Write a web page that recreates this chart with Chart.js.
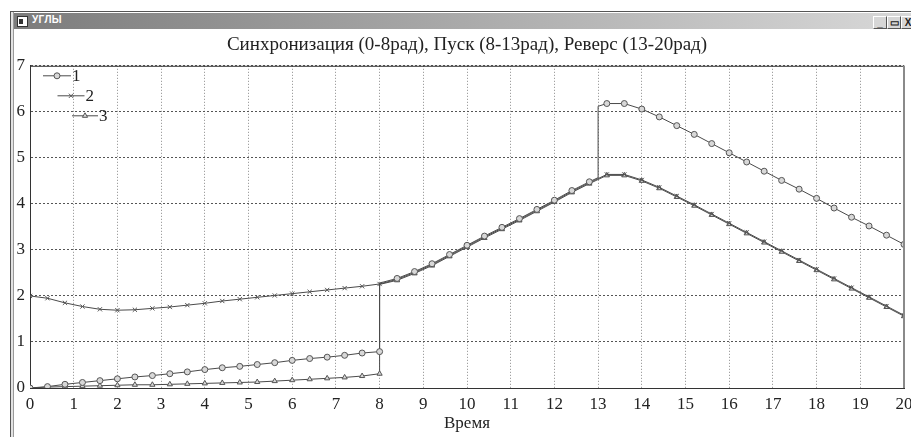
<!DOCTYPE html>
<html>
<head>
<meta charset="utf-8">
<title>Углы</title>
<script src="https://cdn.jsdelivr.net/npm/chart.js"></script>
<style>
  body { margin: 0; background: #fff; width: 911px; height: 437px; overflow: hidden; position: relative; }
  .line { position: absolute; }
  #caption { position: absolute; left: 14px; top: 13px; width: 897px; height: 16px;
    background: linear-gradient(to right, #7c7c7c, #d8d8d8); }
  #capIcon { position: absolute; left: 3px; top: 3px; width: 9px; height: 9px; background: #fff; border: 1px solid #333; }
  #capIcon div { position: absolute; left: 1px; top: 2px; width: 4px; height: 5px; background: #333; }
  #capText { position: absolute; left: 18px; top: 1px; color: #fff; font: bold 10px "Liberation Sans", sans-serif; letter-spacing: 0.4px; }
  .btn { position: absolute; top: 3px; width: 12px; height: 11px; background: #d6d6d6;
    border-top: 1px solid #fff; border-left: 1px solid #fff; border-right: 1px solid #555; border-bottom: 1px solid #555;
    font: bold 10px "Liberation Sans", sans-serif; color: #222; text-align: center; line-height: 11px; }
  canvas { position: absolute; left: 0; top: 0; }
</style>
</head>
<body>
<div class="line" style="left:10px; top:11px; width:901px; height:1px; background:#555;"></div>
<div class="line" style="left:10px; top:11px; width:1px; height:426px; background:#555;"></div>
<div class="line" style="left:11px; top:12px; width:2px; height:425px; background:#e2e2e2;"></div>
<div class="line" style="left:13px; top:12px; width:1px; height:425px; background:#9a9a9a;"></div>
<div id="caption">
  <div id="capIcon"><div></div></div>
  <div id="capText">УГЛЫ</div>
  <div class="btn" style="left:859px;">_</div>
  <div class="btn" style="left:873px;">&#9645;</div>
  <div class="btn" style="left:887px;">X</div>
</div>
<canvas id="anglesGraph" width="911" height="437"></canvas>
<script>
// время, шаг 0.4
var time = [0, 0.4, 0.8, 1.2, 1.6, 2, 2.4, 2.8, 3.2, 3.6, 4, 4.4, 4.8, 5.2, 5.6, 6, 6.4, 6.8, 7.2, 7.6, 8,
  8.4, 8.8, 9.2, 9.6, 10, 10.4, 10.8, 11.2, 11.6, 12, 12.4, 12.8, 13.2, 13.6, 14, 14.4, 14.8, 15.2, 15.6, 16,
  16.4, 16.8, 17.2, 17.6, 18, 18.4, 18.8, 19.2, 19.6, 20];

// углы по каждой кривой
var angle1 = [0, 0.03, 0.08, 0.12, 0.16, 0.20, 0.24, 0.27, 0.31, 0.35, 0.40, 0.44, 0.47, 0.51, 0.55, 0.60, 0.64, 0.67, 0.71, 0.76, 0.79,
  2.38, 2.53, 2.70, 2.90, 3.10, 3.30, 3.49, 3.68, 3.88, 4.08, 4.29, 4.48,
  6.18, 6.18, 6.06, 5.89, 5.70, 5.51, 5.31, 5.11, 4.91, 4.71, 4.51, 4.32, 4.12, 3.91, 3.71, 3.52, 3.32, 3.12];
var angle2 = [2.00, 1.95, 1.85, 1.77, 1.71, 1.69, 1.70, 1.73, 1.76, 1.80, 1.84, 1.89, 1.93, 1.97, 2.01, 2.05, 2.09, 2.13, 2.17, 2.21, 2.26,
  2.36, 2.51, 2.68, 2.88, 3.08, 3.28, 3.47, 3.66, 3.86, 4.06, 4.27, 4.46, 4.64, 4.64, 4.52, 4.36, 4.17, 3.98, 3.78, 3.58,
  3.38, 3.18, 2.98, 2.78, 2.58, 2.38, 2.18, 1.98, 1.78, 1.58];
var angle3 = [0, 0.02, 0.03, 0.04, 0.05, 0.06, 0.07, 0.07, 0.08, 0.09, 0.10, 0.11, 0.12, 0.13, 0.15, 0.17, 0.19, 0.21, 0.23, 0.26, 0.31,
  2.34, 2.49, 2.66, 2.86, 3.06, 3.26, 3.45, 3.64, 3.84, 4.04, 4.25, 4.44, 4.62, 4.62, 4.50, 4.34, 4.15, 3.96, 3.76, 3.56,
  3.36, 3.16, 2.96, 2.76, 2.56, 2.36, 2.16, 1.96, 1.76, 1.56];

// скачки (вертикальные участки) - [время, угол], без маркеров
var jumps1 = [[8, 2.28], [13, 4.57], [13, 6.12]];
var jumps2 = [];
var jumps3 = [[8, 2.25]];

var seriesNames = ['1', '2', '3'];
var xTicks = [0, 20, 1];
var yTicks = [0, 7, 1];
var titleText = 'Синхронизация (0-8рад), Пуск (8-13рад), Реверс (13-20рад)';
var xTitle = 'Время';

function buildPoints(vals, jumps) {
  var pts = [];
  for (var i = 0; i < time.length; i++) {
    pts.push({x: time[i], y: vals[i], m: true});
  }
  for (var j = 0; j < jumps.length; j++) {
    var k = 0;
    while (k < pts.length && pts[k].x <= jumps[j][0]) k++;
    pts.splice(k, 0, {x: jumps[j][0], y: jumps[j][1], m: false});
  }
  return pts;
}

var serif = '"Liberation Serif", "Times New Roman", serif';

// легенда лесенкой в левом верхнем углу
var stairLegend = {
  id: 'stairLegend',
  afterDatasetsDraw: function (chart) {
    var ctx = chart.ctx, a = chart.chartArea;
    ctx.save();
    chart.data.datasets.forEach(function (ds, i) {
      var y = a.top + 10 + 20 * i;
      var x0 = a.left + 13 + 14.5 * i, x1 = a.left + 41 + 13.5 * i;
      ctx.strokeStyle = ds.borderColor;
      ctx.lineWidth = 1;
      ctx.beginPath(); ctx.moveTo(x0, y); ctx.lineTo(x1, y); ctx.stroke();
      ctx.fillStyle = ds.pointBackgroundColor;
      ctx.strokeStyle = ds.pointBorderColor;
      Chart.helpers.drawPoint(ctx, {pointStyle: ds.pointStyle, radius: 3, borderWidth: 1, rotation: 0}, (x0 + x1) / 2, y);
      ctx.fillStyle = '#222';
      ctx.font = '17px ' + serif;
      ctx.textBaseline = 'middle';
      ctx.textAlign = 'left';
      ctx.fillText(ds.label, x1 + 1, y + 1);
    });
    ctx.restore();
  }
};

// верхняя и правая рамка поля графика
var plotBorder = {
  id: 'plotBorder',
  afterDraw: function (chart) {
    var ctx = chart.ctx, a = chart.chartArea;
    ctx.save();
    ctx.strokeStyle = '#333';
    ctx.lineWidth = 1;
    ctx.beginPath(); ctx.moveTo(a.left, a.top + 0.5); ctx.lineTo(a.right, a.top + 0.5); ctx.stroke();
    ctx.strokeStyle = '#8a8a8a';
    ctx.lineWidth = 2;
    ctx.beginPath(); ctx.moveTo(a.right, a.top); ctx.lineTo(a.right, a.bottom); ctx.stroke();
    ctx.restore();
  }
};

function makeSet(label, vals, jumps, style) {
  return {
    label: label,
    data: buildPoints(vals, jumps),
    borderColor: '#4a4a4a',
    borderWidth: 1,
    pointStyle: style,
    pointRadius: function (c) { return c.raw && c.raw.m ? 3 : 0; },
    pointBorderColor: '#555',
    pointBackgroundColor: '#d8d8d8',
    pointBorderWidth: 1,
    tension: 0,
    fill: false
  };
}

var ctx = document.getElementById('anglesGraph').getContext('2d');
var myChart = new Chart(ctx, {
  type: 'line',
  data: {
    datasets: [
      makeSet(seriesNames[0], angle1, jumps1, 'circle'),
      makeSet(seriesNames[1], angle2, jumps2, 'crossRot'),
      makeSet(seriesNames[2], angle3, jumps3, 'triangle')
    ]
  },
  options: {
    responsive: false,
    animation: false,
    devicePixelRatio: 1,
    layout: { padding: { left: 0, right: 7, top: 34, bottom: 0 } },
    plugins: {
      legend: { display: false },
      tooltip: { enabled: false },
      title: {
        display: true,
        text: titleText,
        fullSize: false,
        color: '#222',
        font: { family: serif, size: 19, weight: 'normal' },
        padding: { top: 0, bottom: 9 }
      }
    },
    scales: {
      x: {
        type: 'linear',
        min: xTicks[0], max: xTicks[1],
        ticks: { stepSize: xTicks[2], color: '#222', padding: 6, maxRotation: 0, autoSkip: false,
          font: { family: serif, size: 17 } },
        grid: { color: '#8a8a8a', drawTicks: false, lineWidth: 1 },
        border: { display: true, color: '#333', width: 1, dash: [1, 2] },
        title: { display: true, text: xTitle, color: '#222', padding: { top: 0, bottom: 3 },
          font: { family: serif, size: 17 } },
        afterFit: function (s) { s.height = 49; s.paddingLeft = 0; s.paddingRight = 0; }
      },
      y: {
        min: yTicks[0], max: yTicks[1],
        ticks: { stepSize: yTicks[2], color: '#222', padding: 5, font: { family: serif, size: 17 } },
        grid: { color: '#555', drawTicks: false, lineWidth: 1 },
        border: { display: true, color: '#333', width: 1, dash: [2, 2] },
        afterFit: function (s) { s.width = 30; }
      }
    }
  },
  plugins: [stairLegend, plotBorder]
});
</script>
</body>
</html>
